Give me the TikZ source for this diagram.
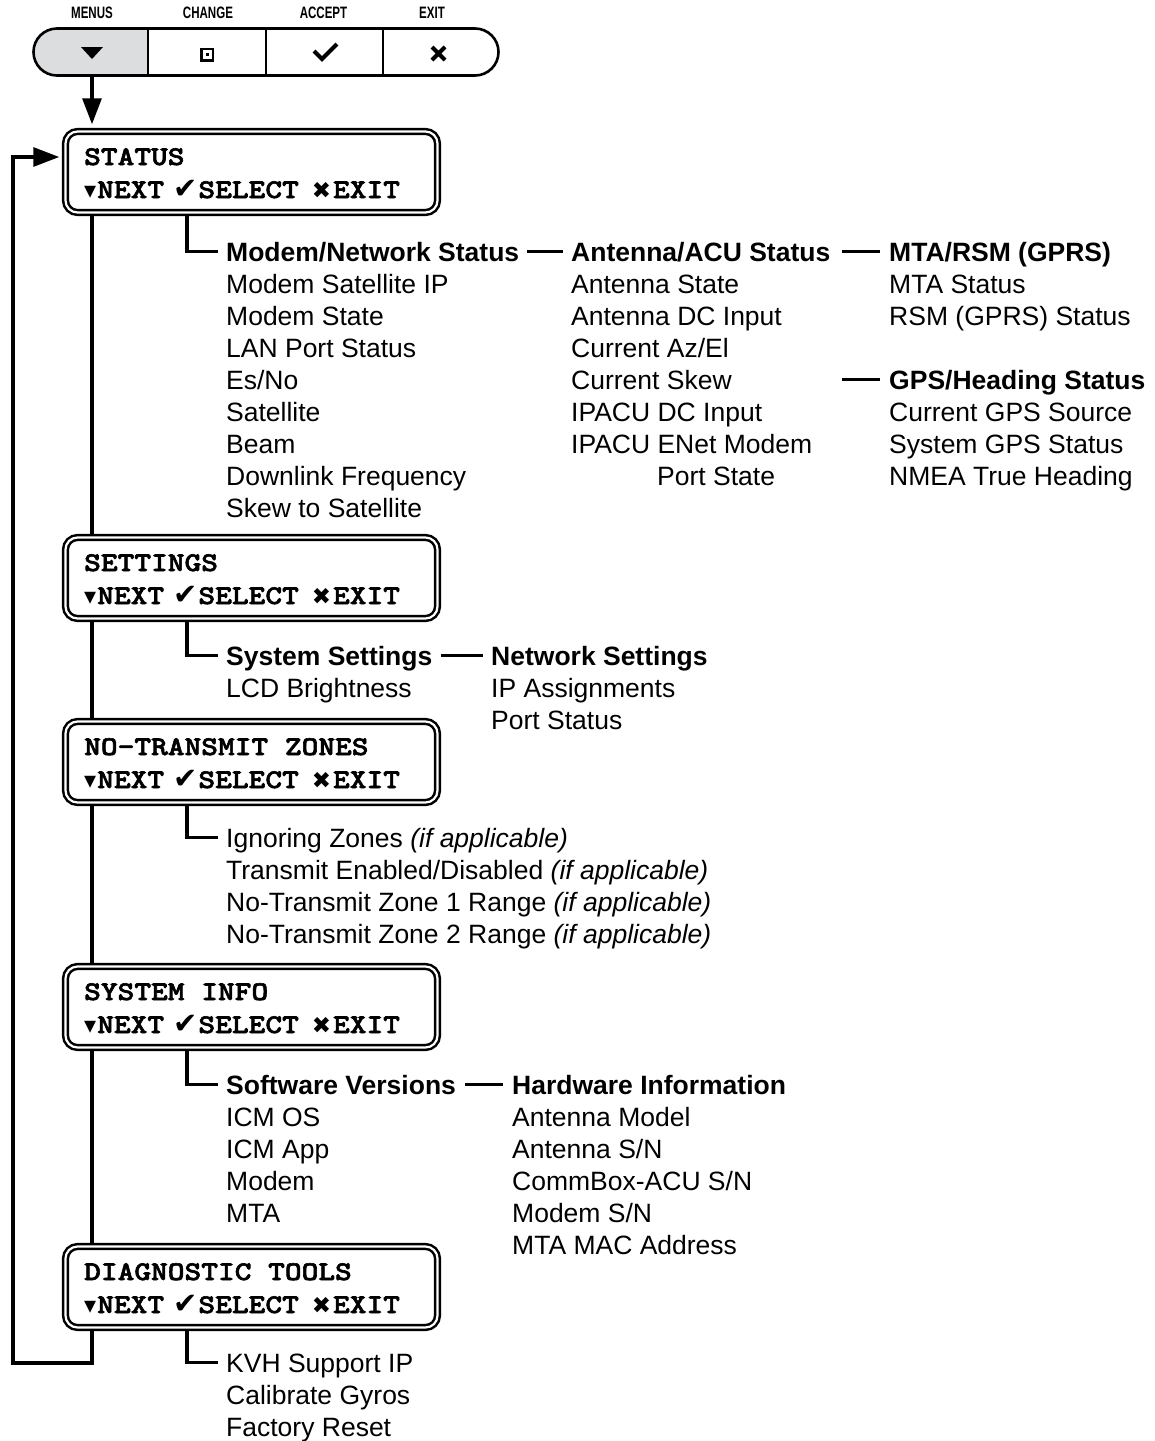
\documentclass[tikz,border=0pt]{standalone}
\usepackage{fontspec}
\setmainfont{Liberation Sans}
\newfontfamily\boxfont{lmmonolt10-bold.otf}[FakeStretch=1.18,FakeBold=2.2]
\newfontfamily\symfont{DejaVu Sans}
\newfontfamily\condfont{Liberation Sans}[FakeStretch=0.7]
\usetikzlibrary{arrows.meta,backgrounds}
\definecolor{barfill}{HTML}{DCDDDE}
\newcommand\navline{{\symfont\fontsize{24}{24}\selectfont ▾}\kern1pt NEXT\kern9pt{\symfont\fontsize{29}{29}\selectfont ✔}\kern1pt SELECT\kern13pt{\symfont\fontsize{23}{23}\selectfont ✖}\kern2pt EXIT}
\tikzset{
 conn/.style={line width=3.2pt},
 box/.style={draw, double=white, line width=2.5pt, double distance=2.2pt, rounded corners=12pt, minimum width=372pt, minimum height=81pt, inner sep=0pt},
 boxtxt/.style={anchor=base west, inner sep=0pt, font=\boxfont\fontsize{27}{27}\selectfont},
 lbl/.style={anchor=base west, inner sep=0pt, text height=19pt, text depth=0pt, font=\fontsize{26.5}{32}\selectfont},
 hdr/.style={anchor=base west, inner sep=0pt, text height=19pt, text depth=0pt, font=\fontsize{26.5}{32}\selectfont\bfseries},
 toplbl/.style={anchor=base, inner sep=0pt, font=\condfont\bfseries\fontsize{16.5}{16.5}\selectfont},
 tip/.style={-{Triangle[length=26pt,width=19pt]}},
}
\begin{document}
\begin{tikzpicture}[x=1pt,y=-1pt]
\useasboundingbox (0,0) rectangle (1155,1441);
% ---- top button bar ----
\node[toplbl] (lmenus) at (92,18.5) {MENUS};
\node[toplbl] (lchange) at (208,18.5) {CHANGE};
\node[toplbl] (laccept) at (323.5,18.5) {ACCEPT};
\node[toplbl] (lexit) at (432,18.5) {EXIT};
\begin{scope}
\clip (0,0) rectangle (148,100);
\fill[barfill, rounded corners=23.5pt] (33.5,28.5) rectangle (498.5,75.5);
\end{scope}
\draw[line width=2.6pt, rounded corners=23.5pt] (33.5,28.5) rectangle (498.5,75.5);
\draw[line width=2.6pt] (148,28.5) -- (148,75.5) (266,28.5) -- (266,75.5) (383,28.5) -- (383,75.5);
\coordinate (menus) at (92,76);
\fill (81,47) -- (103,47) -- (92,59) -- cycle;
\draw[line width=2.6pt] (201.5,49) rectangle (213,60.5);
\fill (205.8,53.3) rectangle (208.7,56.2);
\draw[line width=4pt] (314,51) -- (322,59) -- (337,44);
\draw[line width=4pt] (432,47) -- (445,60) (432,60) -- (445,47);
% ---- menu boxes ----
\node[box] (st) at (251.5,172) {};
\node[box] (se) at (251.5,578) {};
\node[box] (nt) at (251.5,762) {};
\node[box] (si) at (251.5,1007) {};
\node[box] (dt) at (251.5,1287) {};
\node[boxtxt] (st1) at (84,165) {STATUS};
\node[boxtxt] (st2) at (84,198) {\navline};
\node[boxtxt] (se1) at (84,571) {SETTINGS};
\node[boxtxt] (se2) at (84,604) {\navline};
\node[boxtxt] (nt1) at (84,755) {NO-TRANSMIT ZONES};
\node[boxtxt] (nt2) at (84,788) {\navline};
\node[boxtxt] (si1) at (84,1000) {SYSTEM INFO};
\node[boxtxt] (si2) at (84,1033) {\navline};
\node[boxtxt] (dt1) at (84,1280) {DIAGNOSTIC TOOLS};
\node[boxtxt] (dt2) at (84,1313) {\navline};
% ---- status branch ----
\node[hdr] (mn) at (226,261) {Modem/Network Status};
\foreach \t [count=\i] in {Modem Satellite IP, Modem State, LAN Port Status, Es/No, Satellite, Beam, Downlink Frequency, Skew to Satellite}
  \node[lbl] (mn\i) at (226,261+32*\i) {\t};
\node[hdr] (an) at (571,261) {Antenna/ACU Status};
\foreach \t [count=\i] in {Antenna State, Antenna DC Input, Current Az/El, Current Skew, IPACU DC Input, IPACU ENet Modem}
  \node[lbl] (an\i) at (571,261+32*\i) {\t};
\node[lbl] (an7) at (657,485) {Port State};
\node[hdr] (mt) at (889,261) {MTA/RSM (GPRS)};
\node[lbl] (mt1) at (889,293) {MTA Status};
\node[lbl] (mt2) at (889,325) {RSM (GPRS) Status};
\node[hdr] (gp) at (889,389) {GPS/Heading Status};
\foreach \t [count=\i] in {Current GPS Source, System GPS Status, NMEA True Heading}
  \node[lbl] (gp\i) at (889,389+32*\i) {\t};
% ---- settings branch ----
\node[hdr] (ss) at (226,665) {System Settings};
\node[lbl] (ss1) at (226,697) {LCD Brightness};
\node[hdr] (ns) at (491,665) {Network Settings};
\node[lbl] (ns1) at (491,697) {IP Assignments};
\node[lbl] (ns2) at (491,729) {Port Status};
% ---- no-transmit branch ----
\node[lbl] (nz1) at (226,847) {Ignoring Zones \textit{(if applicable)}};
\node[lbl] (nz2) at (226,879) {Transmit Enabled/Disabled \textit{(if applicable)}};
\node[lbl] (nz3) at (226,911) {No-Transmit Zone 1 Range \textit{(if applicable)}};
\node[lbl] (nz4) at (226,943) {No-Transmit Zone 2 Range \textit{(if applicable)}};
% ---- system info branch ----
\node[hdr] (sv) at (226,1094) {Software Versions};
\foreach \t [count=\i] in {ICM OS, ICM App, Modem, MTA}
  \node[lbl] (sv\i) at (226,1094+32*\i) {\t};
\node[hdr] (hw) at (512,1094) {Hardware Information};
\foreach \t [count=\i] in {Antenna Model, Antenna S/N, CommBox-ACU S/N, Modem S/N, MTA MAC Address}
  \node[lbl] (hw\i) at (512,1094+32*\i) {\t};
% ---- diagnostic branch ----
\node[lbl] (dg1) at (226,1372) {KVH Support IP};
\node[lbl] (dg2) at (226,1404) {Calibrate Gyros};
\node[lbl] (dg3) at (226,1436) {Factory Reset};
% ---- connectors ----
\coordinate (spx) at (92,0);
\coordinate (brx) at (187,0);
\begin{pgfonlayer}{background}
\draw[conn, tip] (menus) -- ([yshift=6pt]st.north -| menus);
\draw[conn] (spx |- st.south) -- (spx |- se.north);
\draw[conn] (spx |- se.south) -- (spx |- nt.north);
\draw[conn] (spx |- nt.south) -- (spx |- si.north);
\draw[conn] (spx |- si.south) -- (spx |- dt.north);
\draw[conn, tip] (spx |- dt.south) -- (92,1363) -- (13,1363) -- (13,157) -- ([xshift=-5pt]st.west |- 0,157);
\draw[conn] (brx |- st.south) |- ([xshift=-8pt]mn.west);
\draw[conn] (brx |- se.south) |- ([xshift=-8pt]ss.west);
\draw[conn] (brx |- nt.south) |- ([xshift=-8pt]nz1.west);
\draw[conn] (brx |- si.south) |- ([xshift=-8pt]sv.west);
\draw[conn] (brx |- dt.south) |- ([xshift=-8pt]dg1.west);
\draw[conn] ([xshift=8pt]mn.east) -- ([xshift=-8pt]an.west);
\draw[conn] ([xshift=11pt]an.east) -- ([xshift=-9pt]mt.west);
\draw[conn] ([xshift=11pt]an.east |- gp.west) -- ([xshift=-9pt]gp.west);
\draw[conn] ([xshift=8pt]ss.east) -- ([xshift=-8pt]ns.west);
\draw[conn] ([xshift=9pt]sv.east) -- ([xshift=-9pt]hw.west);
\end{pgfonlayer}
\end{tikzpicture}
\end{document}
